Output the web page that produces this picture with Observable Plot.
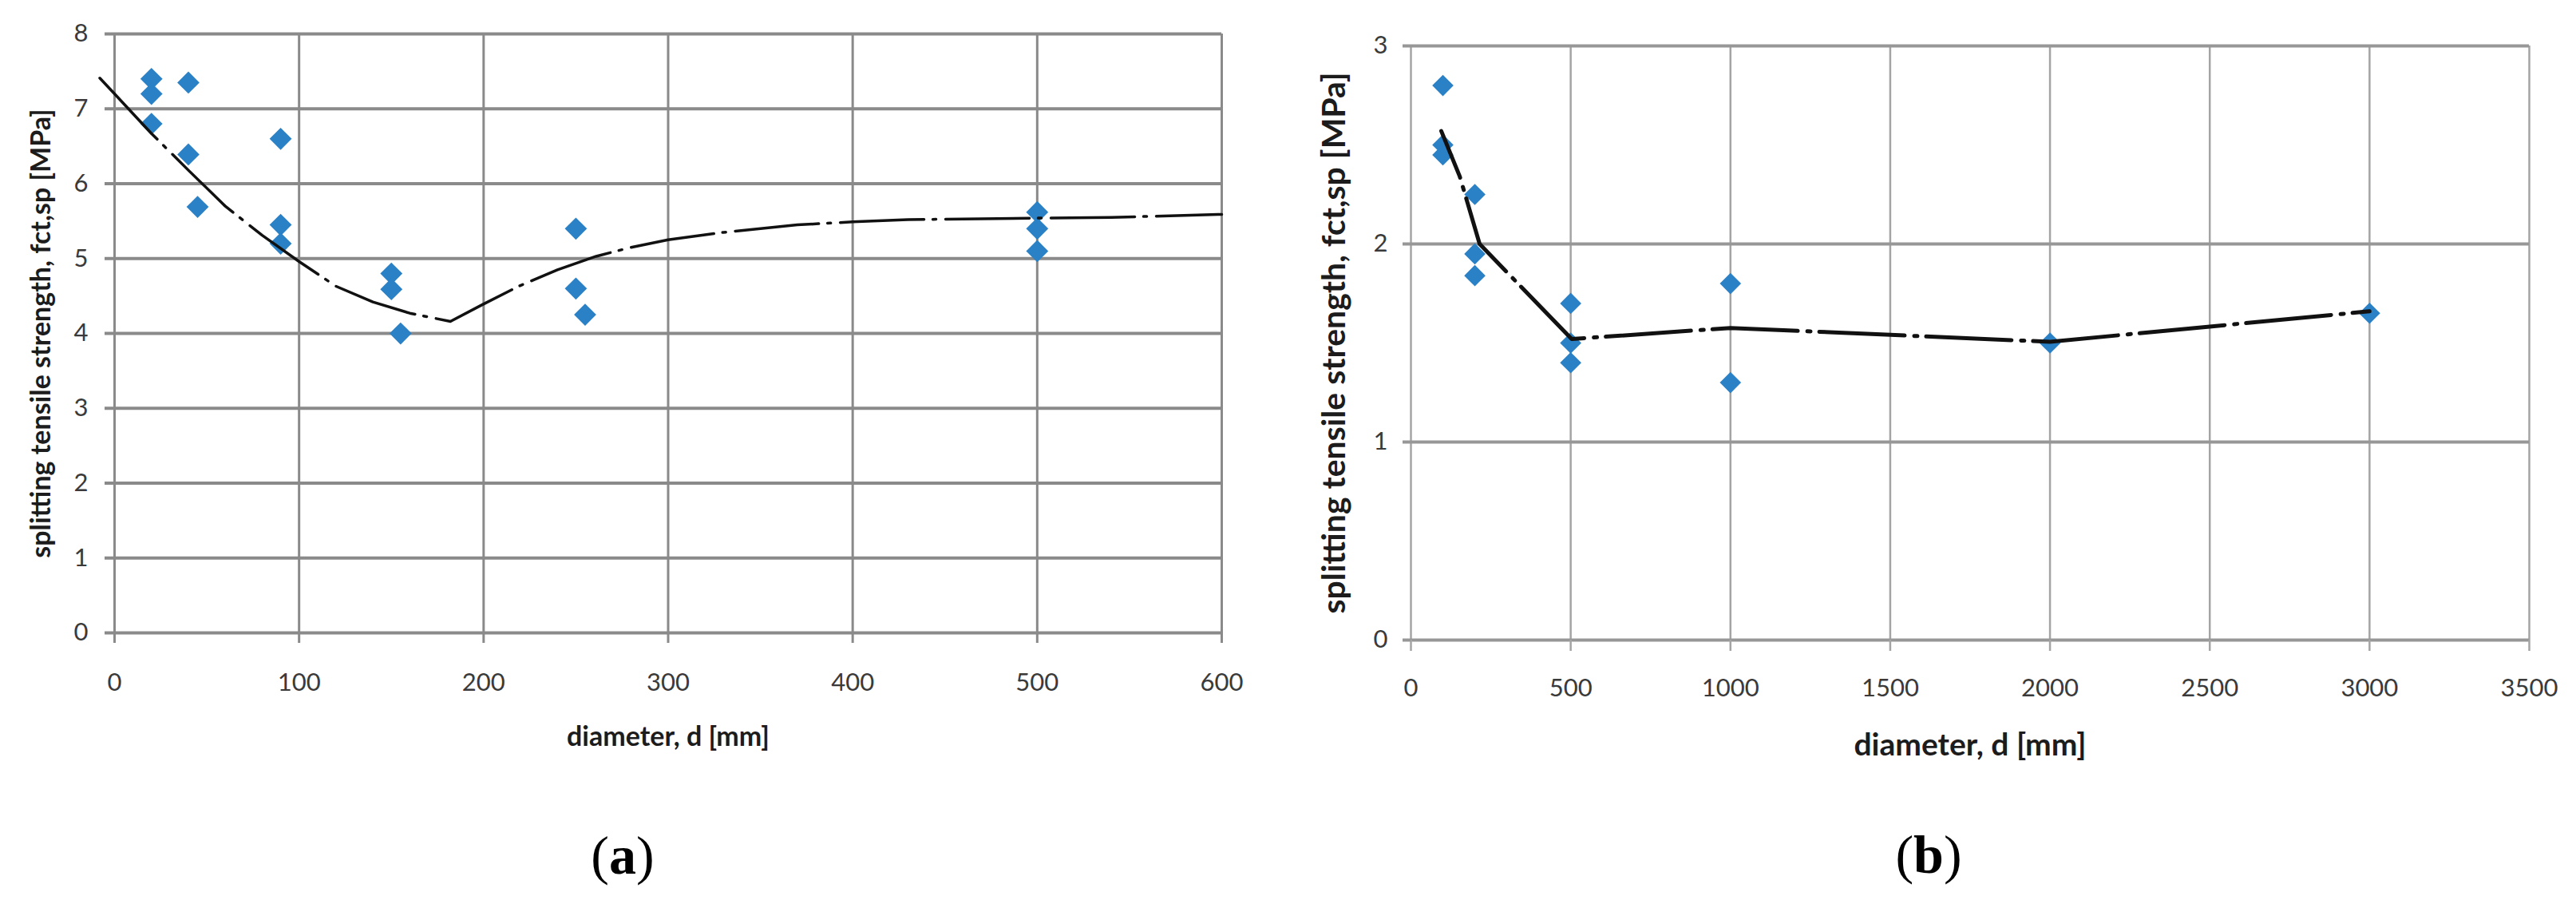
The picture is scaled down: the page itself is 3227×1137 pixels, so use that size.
<!DOCTYPE html>
<html><head><meta charset="utf-8">
<script src="https://cdn.jsdelivr.net/npm/d3@7"></script>
<script src="https://cdn.jsdelivr.net/npm/@observablehq/plot@0.6"></script>
<style>
html,body{margin:0;padding:0;background:#fff;}
#page{position:relative;width:3227px;height:1137px;overflow:hidden;background:#fff;}
.panel{position:absolute;top:0;}
.cap{position:absolute;font-family:"Liberation Serif","Times New Roman",serif;font-size:68px;color:#000;transform:translate(-50%,-50%);line-height:1;white-space:nowrap;}
.cap b{font-weight:bold;}
</style></head><body>
<div id="page">
  <div id="pa" class="panel" style="left:0px;width:1600px"></div>
  <div id="pb" class="panel" style="left:1640px;width:1587px"></div>
  <div class="cap" style="left:780px;top:1071px">(<b>a</b>)</div>
  <div class="cap" style="left:2416px;top:1070px">(<b>b</b>)</div>
</div>
<script>
// ---------- Panel (a) data ----------
const diamA = [20, 20, 20, 40, 40, 45, 90, 90, 90, 150, 150, 155, 250, 250, 255, 500, 500, 500];
const strA  = [7.40, 7.20, 6.80, 7.35, 6.39, 5.69, 6.60, 5.45, 5.20, 4.80, 4.59, 4.00, 5.40, 4.60, 4.25, 5.62, 5.40, 5.10];
const curveDiamA = [-8, 0, 20, 40, 60, 80, 100, 120, 140, 160, 182, 199, 219, 240, 261, 280, 300, 330, 370, 400, 430, 500, 540, 600];
const curveStrA  = [7.41, 7.20, 6.67, 6.18, 5.70, 5.31, 4.96, 4.63, 4.42, 4.27, 4.16, 4.38, 4.63, 4.85, 5.03, 5.15, 5.25, 5.35, 5.45, 5.49, 5.52, 5.54, 5.55, 5.59];
const xTicksA = [0, 100, 200, 300, 400, 500, 600];
const yTicksA = [0, 1, 2, 3, 4, 5, 6, 7, 8];

// ---------- Panel (b) data ----------
const diamB = [100, 100, 100, 200, 200, 200, 500, 500, 500, 1000, 1000, 2000, 3000];
const strB  = [2.80, 2.50, 2.45, 2.25, 1.95, 1.84, 1.70, 1.50, 1.40, 1.80, 1.30, 1.50, 1.65];
const curveDiamB = [95, 153, 215, 503, 1000, 2000, 3000];
const curveStrB  = [2.57, 2.34, 2.00, 1.52, 1.576, 1.506, 1.66];
const xTicksB = [0, 500, 1000, 1500, 2000, 2500, 3000, 3500];
const yTicksB = [0, 1, 2, 3];

const xTitle = "diameter, d [mm]";
const yTitle = "splitting tensile strength, fct,sp [MPa]";

const ptsA = diamA.map((d, i) => ({d, f: strA[i]}));
const lineA = curveDiamA.map((d, i) => ({d, f: curveStrA[i]}));
const ptsB = diamB.map((d, i) => ({d, f: strB[i]}));
const lineB = curveDiamB.map((d, i) => ({d, f: curveStrB[i]}));

const blue = "#2a81c6";
const tickColor = "#3a3a3a";
const titleColor = "#1c1c1c";
const fam = "Lato, 'Open Sans', 'DejaVu Sans', sans-serif";

const chartA = Plot.plot({
  width: 1600, height: 1000,
  marginLeft: 143, marginRight: 70, marginTop: 42, marginBottom: 208,
  x: {domain: [0, 600]},
  y: {domain: [0, 8]},
  style: {fontFamily: fam, background: "#fff", color: tickColor},
  marks: [
    Plot.gridX(xTicksA, {stroke: "#8a8a8a", strokeOpacity: 1, strokeWidth: 3}),
    Plot.gridY(yTicksA, {stroke: "#8a8a8a", strokeOpacity: 1, strokeWidth: 4}),
    Plot.axisX(xTicksA, {tickSize: 13, tickPadding: 37, stroke: "#8a8a8a", strokeWidth: 3, fill: tickColor, fontSize: 31, tickFormat: d => String(d), label: null}),
    Plot.axisY(yTicksA, {tickSize: 12, tickPadding: 21, stroke: "#8a8a8a", strokeWidth: 4, fill: tickColor, fontSize: 31, tickFormat: d => String(d), label: null}),
    Plot.dot(ptsA, {x: "d", y: "f", symbol: "diamond2", r: 12.5, fill: blue, stroke: "none"}),
    Plot.line(lineA, {x: "d", y: "f", stroke: "#111", strokeWidth: 3.5, strokeDasharray: "105,11,4,12"}),
    Plot.text([xTitle], {text: d => d, frameAnchor: "bottom", textAnchor: "middle", dy: 141, lineAnchor: "bottom", fontSize: 34, fontWeight: "bold", fill: titleColor}),
    Plot.text([yTitle], {text: d => d, frameAnchor: "left", textAnchor: "middle", dx: -105, rotate: -90, lineAnchor: "top", fontSize: 34, fontWeight: "bold", fill: titleColor})
  ]
});
document.getElementById("pa").appendChild(chartA);

const chartB = Plot.plot({
  width: 1587, height: 1000,
  marginLeft: 127, marginRight: 59, marginTop: 57, marginBottom: 199,
  x: {domain: [0, 3500]},
  y: {domain: [0, 3]},
  style: {fontFamily: fam, background: "#fff", color: tickColor},
  marks: [
    Plot.gridX(xTicksB, {stroke: "#a4a4a4", strokeOpacity: 1, strokeWidth: 2.5}),
    Plot.gridY(yTicksB, {stroke: "#979797", strokeOpacity: 1, strokeWidth: 4}),
    Plot.axisX(xTicksB, {tickSize: 14, tickPadding: 34, stroke: "#a4a4a4", strokeWidth: 2.5, fill: tickColor, fontSize: 31, tickFormat: d => String(d), label: null}),
    Plot.axisY(yTicksB, {tickSize: 10, tickPadding: 19, stroke: "#979797", strokeWidth: 4, fill: tickColor, fontSize: 31, tickFormat: d => String(d), label: null}),
    Plot.dot(ptsB, {x: "d", y: "f", symbol: "diamond2", r: 12, fill: blue, stroke: "none"}),
    Plot.line(lineB, {x: "d", y: "f", stroke: "#111", strokeWidth: 5, strokeDasharray: "107,12,4,11", strokeDashoffset: 44}),
    Plot.text([xTitle], {text: d => d, frameAnchor: "bottom", textAnchor: "middle", dy: 144, lineAnchor: "bottom", fontSize: 39, fontWeight: "bold", fill: titleColor}),
    Plot.text([yTitle], {text: d => d, frameAnchor: "left", textAnchor: "middle", dx: -112, rotate: -90, lineAnchor: "top", fontSize: 41, fontWeight: "bold", fill: titleColor})
  ]
});
document.getElementById("pb").appendChild(chartB);
</script>
</body></html>
